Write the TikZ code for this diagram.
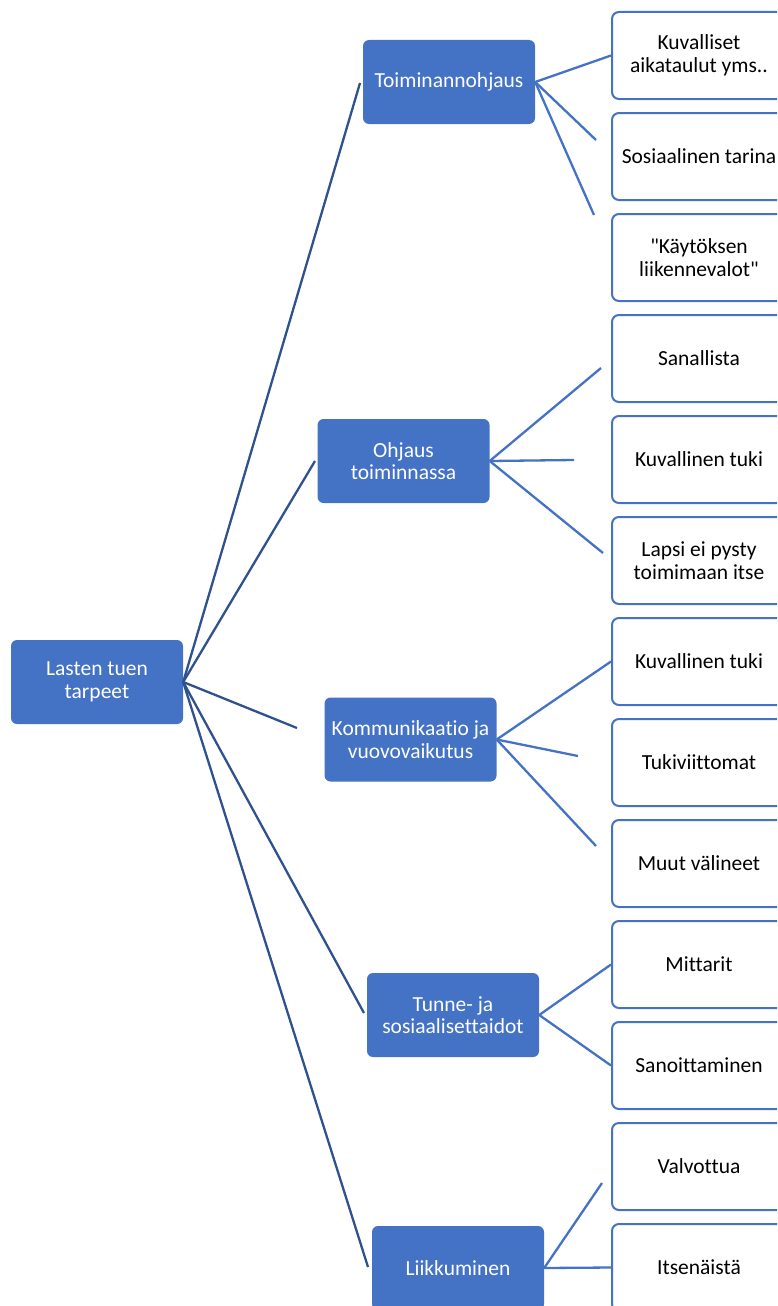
\documentclass[tikz,border=0pt]{standalone}
\usepackage{fontspec}
\setmainfont{Carlito}[Ligatures={TeXOff,NoCommon}]
\definecolor{accent}{HTML}{4472C4}
\definecolor{rootline}{HTML}{2F528F}
\begin{document}
\begin{tikzpicture}[x=1pt,y=-1pt,
  mainbox/.style={rectangle, rounded corners=6pt, fill=accent, text=white,
    minimum width=172pt, minimum height=84pt, align=center, inner sep=2pt,
    font=\fontsize{21.5}{22.5}\selectfont},
  leafbox/.style={rectangle, rounded corners=7pt, draw=accent, line width=2pt, fill=white,
    text=black, minimum width=174pt, minimum height=87pt, align=center, inner sep=2pt,
    font=\fontsize{21.5}{22.5}\selectfont},
  rootlink/.style={draw=rootline, line width=2.3pt},
  leaflink/.style={draw=accent, line width=2.3pt}]
\useasboundingbox (0,0) rectangle (777,1306);
\clip (0,0) rectangle (777,1306);
% root
\node[mainbox] (root) at (97,682) {Lasten tuen\\tarpeet};
% level 1
\node[mainbox] (t1) at (449,82) {Toiminannohjaus};
\node[mainbox] (t2) at (403.5,461) {Ohjaus\\toiminnassa};
\node[mainbox] (t3) at (410.5,739.5) {Kommunikaatio ja\\vuovovaikutus};
\node[mainbox] (t4) at (453,1015) {Tunne- ja\\sosiaalisettaidot};
\node[mainbox] (t5) at (458,1268) {Liikkuminen};
% level 2
\node[leafbox] (a1) at (699,55.5) {Kuvalliset\\aikataulut yms..};
\node[leafbox] (a2) at (699,156.5) {Sosiaalinen tarina};
\node[leafbox] (a3) at (699,257.5) {"Käytöksen\\liikennevalot"};
\node[leafbox] (b1) at (699,358.5) {Sanallista};
\node[leafbox] (b2) at (699,459.5) {Kuvallinen tuki};
\node[leafbox] (b3) at (699,560.5) {Lapsi ei pysty\\toimimaan itse};
\node[leafbox] (c1) at (699,661.5) {Kuvallinen tuki};
\node[leafbox] (c2) at (699,762.5) {Tukiviittomat};
\node[leafbox] (c3) at (699,863.5) {Muut välineet};
\node[leafbox] (d1) at (699,964.5) {Mittarit};
\node[leafbox] (d2) at (699,1065.5) {Sanoittaminen};
\node[leafbox] (e1) at (699,1166.5) {Valvottua};
\node[leafbox] (e2) at (699,1267.5) {Itsenäistä};
% free ends
\coordinate (r1) at (360,83);
\coordinate (r2) at (315,461);
\coordinate (r3) at (297,728);
\coordinate (r4) at (364,1013);
\coordinate (r5) at (368,1267);
\coordinate (ea2) at (596,140);
\coordinate (ea3) at (594,215);
\coordinate (eb1) at (601,368);
\coordinate (eb2) at (574,460);
\coordinate (eb3) at (603,553);
\coordinate (ec2) at (578,756);
\coordinate (ec3) at (596,846);
\coordinate (ee1) at (602,1183);
% root links
\draw[rootlink] (root.east) -- (r1);
\draw[rootlink] (root.east) -- (r2);
\draw[rootlink] (root.east) -- (r3);
\draw[rootlink] (root.east) -- (r4);
\draw[rootlink] (root.east) -- (r5);
% leaf links
\draw[leaflink] (t1.east) -- (a1.west);
\draw[leaflink] (t1.east) -- (ea2);
\draw[leaflink] (t1.east) -- (ea3);
\draw[leaflink] (t2.east) -- (eb1);
\draw[leaflink] (t2.east) -- (eb2);
\draw[leaflink] (t2.east) -- (eb3);
\draw[leaflink] (t3.east) -- (c1.west);
\draw[leaflink] (t3.east) -- (ec2);
\draw[leaflink] (t3.east) -- (ec3);
\draw[leaflink] (t4.east) -- (d1.west);
\draw[leaflink] (t4.east) -- (d2.west);
\draw[leaflink] (t5.east) -- (ee1);
\draw[leaflink] (t5.east) -- (e2.west);
\end{tikzpicture}
\end{document}
